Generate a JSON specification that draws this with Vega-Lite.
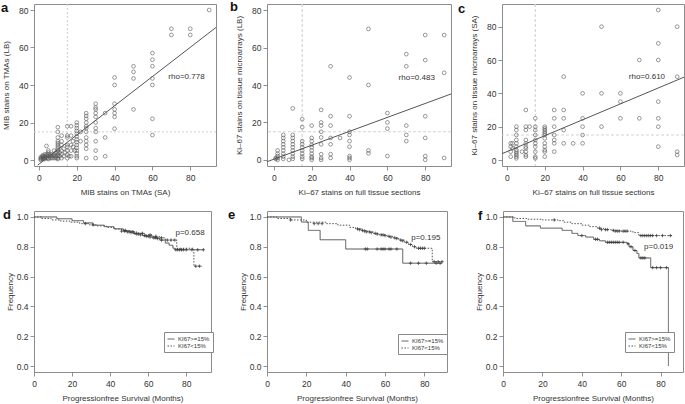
{
"$schema":"https://vega.github.io/schema/vega-lite/v6.json",
"padding":{"left":0,"top":0,"right":0,"bottom":0},
"background":"white",
"datasets":{
"sa":[{"x":1,"y":0},{"x":1,"y":0.5},{"x":1,"y":1},{"x":1,"y":1.5},{"x":2,"y":0.5},{"x":2,"y":1},{"x":2,"y":1.5},{"x":2,"y":2},{"x":2,"y":2.5},{"x":3,"y":0.5},{"x":3,"y":1},{"x":3,"y":1.5},{"x":3,"y":2},{"x":3,"y":3},{"x":4,"y":1},{"x":4,"y":2},{"x":4,"y":3},{"x":4,"y":7.5},{"x":5,"y":0.5},{"x":5,"y":1},{"x":5,"y":2},{"x":5,"y":3},{"x":5,"y":4},{"x":5,"y":5},{"x":6,"y":1},{"x":6,"y":2},{"x":6,"y":3},{"x":7,"y":1},{"x":7,"y":2},{"x":7,"y":3},{"x":8,"y":1},{"x":8,"y":2},{"x":8,"y":3},{"x":8,"y":5},{"x":9,"y":1},{"x":9,"y":2},{"x":9,"y":4},{"x":10,"y":0.5},{"x":10,"y":1},{"x":10,"y":2},{"x":10,"y":3},{"x":10,"y":4},{"x":10,"y":5},{"x":10,"y":6},{"x":10,"y":7},{"x":10,"y":8},{"x":10,"y":9},{"x":10,"y":10},{"x":10,"y":12},{"x":10,"y":15},{"x":10,"y":17.5},{"x":11,"y":2},{"x":11,"y":4},{"x":12,"y":1},{"x":12,"y":3},{"x":12,"y":5},{"x":12,"y":8},{"x":12,"y":10},{"x":12,"y":13},{"x":13,"y":2},{"x":13,"y":6},{"x":14,"y":4},{"x":15,"y":1},{"x":15,"y":3},{"x":15,"y":5},{"x":15,"y":7},{"x":15,"y":8},{"x":15,"y":12},{"x":15,"y":13},{"x":15,"y":18},{"x":16,"y":2},{"x":17,"y":2},{"x":17,"y":5},{"x":17,"y":8},{"x":17,"y":13},{"x":17,"y":18},{"x":18,"y":7},{"x":18,"y":10},{"x":19,"y":5},{"x":20,"y":1},{"x":20,"y":2},{"x":20,"y":3.5},{"x":20,"y":5},{"x":20,"y":6.5},{"x":20,"y":8},{"x":20,"y":9.5},{"x":20,"y":11},{"x":20,"y":12.5},{"x":20,"y":14},{"x":20,"y":15.5},{"x":20,"y":17},{"x":20,"y":18.5},{"x":20,"y":20},{"x":22,"y":10},{"x":22,"y":15},{"x":25,"y":1},{"x":25,"y":6},{"x":25,"y":8},{"x":25,"y":10},{"x":25,"y":12},{"x":25,"y":15},{"x":25,"y":17},{"x":25,"y":18},{"x":25,"y":20},{"x":25,"y":22},{"x":25,"y":23.5},{"x":25,"y":25},{"x":30,"y":1},{"x":30,"y":5},{"x":30,"y":10},{"x":30,"y":15},{"x":30,"y":17},{"x":30,"y":20},{"x":30,"y":23},{"x":30,"y":25},{"x":30,"y":27},{"x":30,"y":28},{"x":30,"y":30},{"x":35,"y":2},{"x":35,"y":12},{"x":35,"y":25},{"x":40,"y":16.7},{"x":40,"y":23},{"x":40,"y":25},{"x":40,"y":27},{"x":40,"y":30},{"x":40,"y":40},{"x":40,"y":44},{"x":50,"y":27},{"x":50,"y":43.5},{"x":50,"y":47},{"x":50,"y":50},{"x":60,"y":13.3},{"x":60,"y":22},{"x":60,"y":40},{"x":60,"y":43.5},{"x":60,"y":50},{"x":60,"y":53.5},{"x":60,"y":57},{"x":70,"y":66.7},{"x":70,"y":70},{"x":80,"y":66.7},{"x":80,"y":70},{"x":90,"y":80}],
"sb":[{"x":1,"y":1},{"x":1,"y":0.5},{"x":2,"y":0},{"x":2,"y":1},{"x":2,"y":2},{"x":2,"y":3.3},{"x":2,"y":5},{"x":5,"y":0.5},{"x":5,"y":1.7},{"x":5,"y":3.3},{"x":5,"y":5},{"x":5,"y":6.7},{"x":5,"y":8.3},{"x":5,"y":10},{"x":5,"y":11.7},{"x":5,"y":13.3},{"x":8,"y":0},{"x":10,"y":0.5},{"x":10,"y":1.7},{"x":10,"y":3.3},{"x":10,"y":5},{"x":10,"y":6.7},{"x":10,"y":8.3},{"x":10,"y":10},{"x":10,"y":11.7},{"x":10,"y":13.3},{"x":10,"y":27.5},{"x":15,"y":0.5},{"x":15,"y":1.7},{"x":15,"y":3.3},{"x":15,"y":5},{"x":15,"y":6.7},{"x":15,"y":8.3},{"x":15,"y":10},{"x":15,"y":17.5},{"x":15,"y":21.7},{"x":20,"y":0},{"x":20,"y":1},{"x":20,"y":1.7},{"x":20,"y":3.3},{"x":20,"y":5},{"x":20,"y":6.7},{"x":20,"y":8},{"x":20,"y":10},{"x":20,"y":11.7},{"x":20,"y":18.3},{"x":25,"y":0},{"x":25,"y":1},{"x":25,"y":3},{"x":25,"y":8.3},{"x":25,"y":12},{"x":25,"y":15},{"x":25,"y":18.3},{"x":25,"y":20},{"x":25,"y":26.7},{"x":30,"y":1},{"x":30,"y":3},{"x":30,"y":8.3},{"x":30,"y":11.7},{"x":30,"y":18.3},{"x":30,"y":23.3},{"x":30,"y":50},{"x":35,"y":11.7},{"x":40,"y":0},{"x":40,"y":1},{"x":40,"y":2},{"x":40,"y":7},{"x":40,"y":10},{"x":40,"y":13.3},{"x":40,"y":15},{"x":40,"y":23.3},{"x":40,"y":44},{"x":50,"y":3.5},{"x":50,"y":5},{"x":50,"y":40},{"x":50,"y":70},{"x":60,"y":2},{"x":60,"y":16.7},{"x":60,"y":20},{"x":60,"y":25},{"x":70,"y":10},{"x":70,"y":13.3},{"x":70,"y":18.3},{"x":70,"y":50},{"x":70,"y":56.5},{"x":80,"y":0},{"x":80,"y":2},{"x":80,"y":11.7},{"x":80,"y":23.3},{"x":80,"y":53.3},{"x":80,"y":66.7},{"x":90,"y":1},{"x":90,"y":46.5},{"x":90,"y":66.7}],
"sc":[{"x":2,"y":2},{"x":2,"y":5},{"x":2,"y":8},{"x":2,"y":10},{"x":3,"y":7},{"x":3,"y":10},{"x":5,"y":1},{"x":5,"y":2},{"x":5,"y":3},{"x":5,"y":4},{"x":5,"y":5},{"x":5,"y":6},{"x":5,"y":8},{"x":5,"y":10},{"x":5,"y":12},{"x":5,"y":15},{"x":5,"y":18},{"x":5,"y":20},{"x":8,"y":5},{"x":10,"y":2},{"x":10,"y":3},{"x":10,"y":5},{"x":10,"y":7},{"x":10,"y":8},{"x":10,"y":10},{"x":10,"y":12},{"x":10,"y":18},{"x":10,"y":20},{"x":10,"y":30},{"x":12,"y":20},{"x":15,"y":1},{"x":15,"y":2},{"x":15,"y":5},{"x":15,"y":8},{"x":15,"y":10},{"x":15,"y":12},{"x":15,"y":15},{"x":15,"y":18},{"x":15,"y":20},{"x":15,"y":25},{"x":20,"y":2},{"x":20,"y":5},{"x":20,"y":6},{"x":20,"y":8},{"x":20,"y":10},{"x":20,"y":13},{"x":20,"y":15},{"x":20,"y":16},{"x":20,"y":17},{"x":20,"y":18},{"x":20,"y":19},{"x":20,"y":20},{"x":25,"y":5},{"x":25,"y":10},{"x":25,"y":12},{"x":25,"y":15},{"x":25,"y":20},{"x":25,"y":25},{"x":25,"y":30},{"x":30,"y":10},{"x":30,"y":18},{"x":30,"y":25},{"x":30,"y":30},{"x":30,"y":50},{"x":35,"y":10},{"x":40,"y":10},{"x":40,"y":15},{"x":40,"y":20},{"x":40,"y":25},{"x":40,"y":40},{"x":50,"y":20},{"x":50,"y":40},{"x":50,"y":80},{"x":60,"y":25},{"x":60,"y":35},{"x":60,"y":40},{"x":70,"y":25},{"x":70,"y":60},{"x":80,"y":8},{"x":80,"y":20},{"x":80,"y":25},{"x":80,"y":35},{"x":80,"y":60},{"x":80,"y":70},{"x":80,"y":90},{"x":90,"y":3},{"x":90,"y":5},{"x":90,"y":50},{"x":90,"y":80}],
"km":[
{"p":"d","g":"KI67>=15%","t":0,"s":1},{"p":"d","g":"KI67>=15%","t":12,"s":0.988},{"p":"d","g":"KI67>=15%","t":20,"s":0.975},{"p":"d","g":"KI67>=15%","t":26,"s":0.96},{"p":"d","g":"KI67>=15%","t":31,"s":0.945},{"p":"d","g":"KI67>=15%","t":37,"s":0.935},{"p":"d","g":"KI67>=15%","t":42,"s":0.92},{"p":"d","g":"KI67>=15%","t":47,"s":0.905},{"p":"d","g":"KI67>=15%","t":52,"s":0.89},{"p":"d","g":"KI67>=15%","t":57,"s":0.875},{"p":"d","g":"KI67>=15%","t":62,"s":0.86},{"p":"d","g":"KI67>=15%","t":66,"s":0.845},{"p":"d","g":"KI67>=15%","t":69,"s":0.825},{"p":"d","g":"KI67>=15%","t":71,"s":0.81},{"p":"d","g":"KI67>=15%","t":73,"s":0.79},{"p":"d","g":"KI67>=15%","t":74,"s":0.78},{"p":"d","g":"KI67>=15%","t":89,"s":0.78},
{"p":"d","g":"KI67<15%","t":0,"s":1},{"p":"d","g":"KI67<15%","t":4,"s":0.99},{"p":"d","g":"KI67<15%","t":9,"s":0.98},{"p":"d","g":"KI67<15%","t":14,"s":0.972},{"p":"d","g":"KI67<15%","t":19,"s":0.965},{"p":"d","g":"KI67<15%","t":24,"s":0.955},{"p":"d","g":"KI67<15%","t":29,"s":0.947},{"p":"d","g":"KI67<15%","t":33,"s":0.94},{"p":"d","g":"KI67<15%","t":38,"s":0.93},{"p":"d","g":"KI67<15%","t":42,"s":0.92},{"p":"d","g":"KI67<15%","t":46,"s":0.91},{"p":"d","g":"KI67<15%","t":50,"s":0.9},{"p":"d","g":"KI67<15%","t":54,"s":0.89},{"p":"d","g":"KI67<15%","t":58,"s":0.88},{"p":"d","g":"KI67<15%","t":62,"s":0.87},{"p":"d","g":"KI67<15%","t":66,"s":0.86},{"p":"d","g":"KI67<15%","t":69,"s":0.845},{"p":"d","g":"KI67<15%","t":75,"s":0.79},{"p":"d","g":"KI67<15%","t":84,"s":0.67},{"p":"d","g":"KI67<15%","t":88,"s":0.67},
{"p":"e","g":"KI67>=15%","t":0,"s":1},{"p":"e","g":"KI67>=15%","t":17.5,"s":0.966},{"p":"e","g":"KI67>=15%","t":21,"s":0.91},{"p":"e","g":"KI67>=15%","t":27,"s":0.847},{"p":"e","g":"KI67>=15%","t":40,"s":0.785},{"p":"e","g":"KI67>=15%","t":69,"s":0.69},{"p":"e","g":"KI67>=15%","t":89,"s":0.69},
{"p":"e","g":"KI67<15%","t":0,"s":1},{"p":"e","g":"KI67<15%","t":5,"s":0.99},{"p":"e","g":"KI67<15%","t":12,"s":0.98},{"p":"e","g":"KI67<15%","t":20,"s":0.965},{"p":"e","g":"KI67<15%","t":30,"s":0.955},{"p":"e","g":"KI67<15%","t":36,"s":0.945},{"p":"e","g":"KI67<15%","t":42,"s":0.93},{"p":"e","g":"KI67<15%","t":45,"s":0.92},{"p":"e","g":"KI67<15%","t":48,"s":0.91},{"p":"e","g":"KI67<15%","t":51,"s":0.9},{"p":"e","g":"KI67<15%","t":54,"s":0.89},{"p":"e","g":"KI67<15%","t":57,"s":0.88},{"p":"e","g":"KI67<15%","t":61,"s":0.87},{"p":"e","g":"KI67<15%","t":64,"s":0.86},{"p":"e","g":"KI67<15%","t":67,"s":0.845},{"p":"e","g":"KI67<15%","t":70,"s":0.83},{"p":"e","g":"KI67<15%","t":72,"s":0.815},{"p":"e","g":"KI67<15%","t":74,"s":0.8},{"p":"e","g":"KI67<15%","t":76,"s":0.79},{"p":"e","g":"KI67<15%","t":84,"s":0.7},{"p":"e","g":"KI67<15%","t":89,"s":0.7},
{"p":"f","g":"KI67>=15%","t":0,"s":1},{"p":"f","g":"KI67>=15%","t":5,"s":0.97},{"p":"f","g":"KI67>=15%","t":11.5,"s":0.94},{"p":"f","g":"KI67>=15%","t":19,"s":0.925},{"p":"f","g":"KI67>=15%","t":30,"s":0.91},{"p":"f","g":"KI67>=15%","t":35,"s":0.89},{"p":"f","g":"KI67>=15%","t":38,"s":0.875},{"p":"f","g":"KI67>=15%","t":42,"s":0.865},{"p":"f","g":"KI67>=15%","t":46,"s":0.85},{"p":"f","g":"KI67>=15%","t":49,"s":0.84},{"p":"f","g":"KI67>=15%","t":52,"s":0.83},{"p":"f","g":"KI67>=15%","t":63,"s":0.82},{"p":"f","g":"KI67>=15%","t":64,"s":0.8},{"p":"f","g":"KI67>=15%","t":66,"s":0.775},{"p":"f","g":"KI67>=15%","t":68,"s":0.755},{"p":"f","g":"KI67>=15%","t":69,"s":0.725},{"p":"f","g":"KI67>=15%","t":75,"s":0.66},{"p":"f","g":"KI67>=15%","t":84,"s":0},
{"p":"f","g":"KI67<15%","t":0,"s":1},{"p":"f","g":"KI67<15%","t":6,"s":0.99},{"p":"f","g":"KI67<15%","t":12,"s":0.985},{"p":"f","g":"KI67<15%","t":20,"s":0.98},{"p":"f","g":"KI67<15%","t":28,"s":0.975},{"p":"f","g":"KI67<15%","t":31,"s":0.965},{"p":"f","g":"KI67<15%","t":35,"s":0.955},{"p":"f","g":"KI67<15%","t":40,"s":0.945},{"p":"f","g":"KI67<15%","t":44,"s":0.935},{"p":"f","g":"KI67<15%","t":48,"s":0.925},{"p":"f","g":"KI67<15%","t":51,"s":0.915},{"p":"f","g":"KI67<15%","t":55,"s":0.91},{"p":"f","g":"KI67<15%","t":60,"s":0.905},{"p":"f","g":"KI67<15%","t":66,"s":0.895},{"p":"f","g":"KI67<15%","t":69,"s":0.875},{"p":"f","g":"KI67<15%","t":86,"s":0.875}
],
"cens":[
{"p":"d","t":46,"s":0.905},{"p":"d","t":47.5,"s":0.905},{"p":"d","t":49,"s":0.9},{"p":"d","t":50,"s":0.9},{"p":"d","t":51,"s":0.895},{"p":"d","t":53,"s":0.89},{"p":"d","t":54,"s":0.885},{"p":"d","t":55,"s":0.885},{"p":"d","t":56,"s":0.88},{"p":"d","t":58,"s":0.875},{"p":"d","t":59,"s":0.87},{"p":"d","t":60,"s":0.87},{"p":"d","t":61,"s":0.865},{"p":"d","t":63,"s":0.86},{"p":"d","t":64,"s":0.86},{"p":"d","t":65,"s":0.855},{"p":"d","t":67,"s":0.845},{"p":"d","t":74.5,"s":0.78},{"p":"d","t":75.5,"s":0.78},{"p":"d","t":76.5,"s":0.78},{"p":"d","t":77.5,"s":0.78},{"p":"d","t":78.5,"s":0.78},{"p":"d","t":80,"s":0.78},{"p":"d","t":83,"s":0.78},{"p":"d","t":86,"s":0.78},{"p":"d","t":89,"s":0.78},
{"p":"d","t":27,"s":0.955},{"p":"d","t":31,"s":0.947},{"p":"d","t":48,"s":0.91},{"p":"d","t":52,"s":0.9},{"p":"d","t":57,"s":0.89},{"p":"d","t":61,"s":0.88},{"p":"d","t":64,"s":0.87},{"p":"d","t":67,"s":0.86},{"p":"d","t":70,"s":0.845},{"p":"d","t":72,"s":0.845},{"p":"d","t":74,"s":0.845},{"p":"d","t":85,"s":0.67},{"p":"d","t":87,"s":0.67},
{"p":"e","t":50,"s":0.785},{"p":"e","t":51,"s":0.785},{"p":"e","t":56,"s":0.785},{"p":"e","t":58,"s":0.785},{"p":"e","t":59,"s":0.785},{"p":"e","t":60,"s":0.785},{"p":"e","t":62,"s":0.785},{"p":"e","t":63,"s":0.785},{"p":"e","t":66,"s":0.785},{"p":"e","t":73,"s":0.69},{"p":"e","t":77,"s":0.69},{"p":"e","t":81,"s":0.69},{"p":"e","t":86,"s":0.69},{"p":"e","t":88,"s":0.69},
{"p":"e","t":12,"s":0.98},{"p":"e","t":24,"s":0.955},{"p":"e","t":26,"s":0.955},{"p":"e","t":28,"s":0.955},{"p":"e","t":46,"s":0.92},{"p":"e","t":47,"s":0.915},{"p":"e","t":48.5,"s":0.91},{"p":"e","t":49.5,"s":0.905},{"p":"e","t":50.5,"s":0.9},{"p":"e","t":52,"s":0.9},{"p":"e","t":53,"s":0.895},{"p":"e","t":55,"s":0.89},{"p":"e","t":56,"s":0.885},{"p":"e","t":58,"s":0.88},{"p":"e","t":59,"s":0.88},{"p":"e","t":60,"s":0.875},{"p":"e","t":62,"s":0.87},{"p":"e","t":63,"s":0.865},{"p":"e","t":65,"s":0.86},{"p":"e","t":66,"s":0.855},{"p":"e","t":68,"s":0.845},{"p":"e","t":69,"s":0.84},{"p":"e","t":71,"s":0.83},{"p":"e","t":73,"s":0.815},{"p":"e","t":75,"s":0.8},{"p":"e","t":77,"s":0.79},{"p":"e","t":78,"s":0.79},{"p":"e","t":79,"s":0.79},{"p":"e","t":80,"s":0.79},{"p":"e","t":85,"s":0.7},{"p":"e","t":87,"s":0.7},{"p":"e","t":89,"s":0.7},
{"p":"f","t":40,"s":0.875},{"p":"f","t":47,"s":0.85},{"p":"f","t":48,"s":0.85},{"p":"f","t":53,"s":0.83},{"p":"f","t":54,"s":0.83},{"p":"f","t":55,"s":0.83},{"p":"f","t":56,"s":0.83},{"p":"f","t":57,"s":0.83},{"p":"f","t":58,"s":0.83},{"p":"f","t":59,"s":0.83},{"p":"f","t":61,"s":0.83},{"p":"f","t":63.5,"s":0.82},{"p":"f","t":65,"s":0.8},{"p":"f","t":67,"s":0.775},{"p":"f","t":70,"s":0.725},{"p":"f","t":71,"s":0.725},{"p":"f","t":72,"s":0.725},{"p":"f","t":76,"s":0.66},{"p":"f","t":78,"s":0.66},{"p":"f","t":80,"s":0.66},{"p":"f","t":83,"s":0.66},
{"p":"f","t":26,"s":0.98},{"p":"f","t":49,"s":0.925},{"p":"f","t":50,"s":0.915},{"p":"f","t":52,"s":0.915},{"p":"f","t":53,"s":0.915},{"p":"f","t":56,"s":0.91},{"p":"f","t":57,"s":0.905},{"p":"f","t":58,"s":0.905},{"p":"f","t":59,"s":0.905},{"p":"f","t":61,"s":0.905},{"p":"f","t":62,"s":0.905},{"p":"f","t":63,"s":0.905},{"p":"f","t":70,"s":0.875},{"p":"f","t":71,"s":0.875},{"p":"f","t":72,"s":0.875},{"p":"f","t":73,"s":0.875},{"p":"f","t":74,"s":0.875},{"p":"f","t":75,"s":0.875},{"p":"f","t":76,"s":0.875},{"p":"f","t":78,"s":0.875},{"p":"f","t":81,"s":0.875},{"p":"f","t":85,"s":0.875}
],
"lab":[
{"p":"a","x":78,"y":44.2,"t":"rho=0.778"},{"p":"b","x":75.5,"y":43.8,"t":"rho=0.483"},{"p":"c","x":74,"y":49.6,"t":"rho=0.610"},
{"p":"d","x":82,"y":0.89,"t":"p=0.658"},{"p":"e","x":80.7,"y":0.86,"t":"p=0.195"},{"p":"f","x":79,"y":0.8,"t":"p=0.019"}
]
},
"vconcat":[
{"hconcat":[
{"width":182,"height":162,"title":{"text":"a","dx":-33,"offset":-11},
"layer":[
{"data":{"values":[{}]},"mark":{"type":"rule","color":"#cfcfcf","strokeDash":[2,2],"strokeWidth":1},"encoding":{"x":{"datum":15,"type":"quantitative","scale":{"domain":[-2.6,93.6],"nice":false,"zero":false}}}},
{"data":{"values":[{}]},"mark":{"type":"rule","color":"#cfcfcf","strokeDash":[2,2],"strokeWidth":1},"encoding":{"y":{"datum":15,"type":"quantitative","scale":{"domain":[-3.2,83.2],"nice":false,"zero":false}}}},
{"data":{"name":"sa"},"mark":{"type":"point","shape":"circle","filled":false,"size":14,"stroke":"#555","strokeWidth":0.6,"opacity":1},
"encoding":{"x":{"field":"x","type":"quantitative","title":"MIB stains on TMAs (SA)","axis":{"values":[0,20,40,60,80]}},"y":{"field":"y","type":"quantitative","title":"MIB stains on TMAs (LB)","axis":{"values":[0,20,40,60,80]}}}},
{"data":{"values":[{"x":-0.6,"y":-2.7},{"x":93.6,"y":70.7}]},"mark":{"type":"line","color":"#555","strokeWidth":1,"clip":true},"encoding":{"x":{"field":"x","type":"quantitative","title":"MIB stains on TMAs (SA)"},"y":{"field":"y","type":"quantitative","title":"MIB stains on TMAs (LB)"}}},
{"data":{"name":"lab"},"transform":[{"filter":"datum.p=='a'"}],"mark":{"type":"text","fontSize":8,"color":"#333"},"encoding":{"x":{"field":"x","type":"quantitative","title":"MIB stains on TMAs (SA)"},"y":{"field":"y","type":"quantitative","title":"MIB stains on TMAs (LB)"},"text":{"field":"t"}}}
]},
{"width":184,"height":162,"title":{"text":"b","dx":-37,"offset":-11},
"layer":[
{"data":{"values":[{}]},"mark":{"type":"rule","color":"#d4d4d4","strokeDash":[3,2],"strokeWidth":1.2},"encoding":{"x":{"datum":15,"type":"quantitative","scale":{"domain":[-3.6,93.6],"nice":false,"zero":false}}}},
{"data":{"values":[{}]},"mark":{"type":"rule","color":"#d4d4d4","strokeDash":[3,2],"strokeWidth":1.2},"encoding":{"y":{"datum":15,"type":"quantitative","scale":{"domain":[-3.3,83.3],"nice":false,"zero":false}}}},
{"data":{"name":"sb"},"mark":{"type":"point","shape":"circle","filled":false,"size":14,"stroke":"#555","strokeWidth":0.6,"opacity":1},
"encoding":{"x":{"field":"x","type":"quantitative","title":"Ki\u201367 stains on full tissue sections","axis":{"values":[0,20,40,60,80]}},"y":{"field":"y","type":"quantitative","title":"Ki\u201367 stains on tissue microarrays (LB)","axis":{"values":[0,20,40,60,80]}}}},
{"data":{"values":[{"x":-3.6,"y":-1.0},{"x":93.6,"y":35.2}]},"mark":{"type":"line","color":"#555","strokeWidth":1,"clip":true},"encoding":{"x":{"field":"x","type":"quantitative","title":"Ki\u201367 stains on full tissue sections"},"y":{"field":"y","type":"quantitative","title":"Ki\u201367 stains on tissue microarrays (LB)"}}},
{"data":{"name":"lab"},"transform":[{"filter":"datum.p=='b'"}],"mark":{"type":"text","fontSize":8,"color":"#333"},"encoding":{"x":{"field":"x","type":"quantitative","title":"Ki\u201367 stains on full tissue sections"},"y":{"field":"y","type":"quantitative","title":"Ki\u201367 stains on tissue microarrays (LB)"},"text":{"field":"t"}}}
]},
{"width":182,"height":162,"title":{"text":"c","dx":-44,"offset":-13},
"layer":[
{"data":{"values":[{}]},"mark":{"type":"rule","color":"#d4d4d4","strokeDash":[3,2],"strokeWidth":1.2},"encoding":{"x":{"datum":15,"type":"quantitative","scale":{"domain":[-2.6,93.6],"nice":false,"zero":false}}}},
{"data":{"values":[{}]},"mark":{"type":"rule","color":"#d4d4d4","strokeDash":[3,2],"strokeWidth":1.2},"encoding":{"y":{"datum":15,"type":"quantitative","scale":{"domain":[-3.6,93.6],"nice":false,"zero":false}}}},
{"data":{"name":"sc"},"mark":{"type":"point","shape":"circle","filled":false,"size":14,"stroke":"#555","strokeWidth":0.6,"opacity":1},
"encoding":{"x":{"field":"x","type":"quantitative","title":"Ki\u201367 stains on full tissue sections","axis":{"values":[0,20,40,60,80]}},"y":{"field":"y","type":"quantitative","title":"Ki\u201367 stains on tissue microarrays (SA)","axis":{"values":[0,20,40,60,80]}}}},
{"data":{"values":[{"x":-2.6,"y":3.8},{"x":93.6,"y":49.7}]},"mark":{"type":"line","color":"#555","strokeWidth":1,"clip":true},"encoding":{"x":{"field":"x","type":"quantitative","title":"Ki\u201367 stains on full tissue sections"},"y":{"field":"y","type":"quantitative","title":"Ki\u201367 stains on tissue microarrays (SA)"}}},
{"data":{"name":"lab"},"transform":[{"filter":"datum.p=='c'"}],"mark":{"type":"text","fontSize":8,"color":"#333"},"encoding":{"x":{"field":"x","type":"quantitative","title":"Ki\u201367 stains on full tissue sections"},"y":{"field":"y","type":"quantitative","title":"Ki\u201367 stains on tissue microarrays (SA)"},"text":{"field":"t"}}}
]}
],"spacing":51,"bounds":"flush"},
{"hconcat":[
{"width":177,"height":161,"title":{"text":"d","dx":-31,"offset":-11},
"layer":[
{"data":{"name":"km"},"transform":[{"filter":"datum.p=='d'"}],"mark":{"type":"line","interpolate":"step-after","color":"#555","strokeWidth":1},
"encoding":{"x":{"field":"t","type":"quantitative","title":"Progressionfree Survival (Months)","scale":{"domain":[0,93],"nice":false,"zero":false},"axis":{"values":[0,20,40,60,80],"titlePadding":7}},
"y":{"field":"s","type":"quantitative","title":"Frequency","scale":{"domain":[-0.04,1.04],"nice":false,"zero":false},"axis":{"values":[0,0.2,0.4,0.6,0.8,1],"tickCount":10,"format":".1f","titlePadding":2,"labelOverlap":false}},
"strokeDash":{"field":"g","type":"nominal","scale":{"domain":["KI67>=15%","KI67<15%"],"range":[[1,0],[1.5,1.5]]},"legend":{"orient":"none","legendX":130,"legendY":121}}}},
{"data":{"name":"cens"},"transform":[{"filter":"datum.p=='d'"}],"mark":{"type":"point","shape":"M-1,0L1,0M0,-1L0,1","filled":false,"size":12,"stroke":"#333","strokeWidth":0.7,"opacity":1},
"encoding":{"x":{"field":"t","type":"quantitative","title":"Progressionfree Survival (Months)"},"y":{"field":"s","type":"quantitative","title":"Frequency"}}},
{"data":{"name":"lab"},"transform":[{"filter":"datum.p=='d'"}],"mark":{"type":"text","fontSize":8,"color":"#333"},"encoding":{"x":{"field":"x","type":"quantitative","title":"Progressionfree Survival (Months)"},"y":{"field":"y","type":"quantitative","title":"Frequency"},"text":{"field":"t"}}}
]},
{"width":180,"height":161,"title":{"text":"e","dx":-39,"offset":-10.5},
"layer":[
{"data":{"name":"km"},"transform":[{"filter":"datum.p=='e'"}],"mark":{"type":"line","interpolate":"step-after","color":"#555","strokeWidth":1},
"encoding":{"x":{"field":"t","type":"quantitative","title":"Progressionfree Survival (Months)","scale":{"domain":[0,91.5],"nice":false,"zero":false},"axis":{"values":[0,20,40,60,80],"titlePadding":7}},
"y":{"field":"s","type":"quantitative","title":"Frequency","scale":{"domain":[-0.04,1.04],"nice":false,"zero":false},"axis":{"values":[0,0.2,0.4,0.6,0.8,1],"tickCount":10,"format":".1f","titlePadding":2,"labelOverlap":false}},
"strokeDash":{"field":"g","type":"nominal","scale":{"domain":["KI67>=15%","KI67<15%"],"range":[[1,0],[1.5,1.5]]},"legend":{"orient":"none","legendX":131,"legendY":123}}}},
{"data":{"name":"cens"},"transform":[{"filter":"datum.p=='e'"}],"mark":{"type":"point","shape":"M-1,0L1,0M0,-1L0,1","filled":false,"size":12,"stroke":"#333","strokeWidth":0.7,"opacity":1},
"encoding":{"x":{"field":"t","type":"quantitative","title":"Progressionfree Survival (Months)"},"y":{"field":"s","type":"quantitative","title":"Frequency"}}},
{"data":{"name":"lab"},"transform":[{"filter":"datum.p=='e'"}],"mark":{"type":"text","fontSize":8,"color":"#333"},"encoding":{"x":{"field":"x","type":"quantitative","title":"Progressionfree Survival (Months)"},"y":{"field":"y","type":"quantitative","title":"Frequency"},"text":{"field":"t"}}}
]},
{"width":180,"height":161,"title":{"text":"f","dx":-25,"offset":-11.5},
"layer":[
{"data":{"name":"km"},"transform":[{"filter":"datum.p=='f'"}],"mark":{"type":"line","interpolate":"step-after","color":"#555","strokeWidth":1},
"encoding":{"x":{"field":"t","type":"quantitative","title":"Progressionfree Survival (Months)","scale":{"domain":[0,91.4],"nice":false,"zero":false},"axis":{"values":[0,20,40,60,80],"titlePadding":7}},
"y":{"field":"s","type":"quantitative","title":"Frequency","scale":{"domain":[-0.04,1.04],"nice":false,"zero":false},"axis":{"values":[0,0.2,0.4,0.6,0.8,1],"tickCount":10,"format":".1f","titlePadding":2,"labelOverlap":false}},
"strokeDash":{"field":"g","type":"nominal","scale":{"domain":["KI67>=15%","KI67<15%"],"range":[[1,0],[1.5,1.5]]},"legend":{"orient":"none","legendX":122,"legendY":121}}}},
{"data":{"name":"cens"},"transform":[{"filter":"datum.p=='f'"}],"mark":{"type":"point","shape":"M-1,0L1,0M0,-1L0,1","filled":false,"size":12,"stroke":"#333","strokeWidth":0.7,"opacity":1},
"encoding":{"x":{"field":"t","type":"quantitative","title":"Progressionfree Survival (Months)"},"y":{"field":"s","type":"quantitative","title":"Frequency"}}},
{"data":{"name":"lab"},"transform":[{"filter":"datum.p=='f'"}],"mark":{"type":"text","fontSize":8,"color":"#333"},"encoding":{"x":{"field":"x","type":"quantitative","title":"Progressionfree Survival (Months)"},"y":{"field":"y","type":"quantitative","title":"Frequency"},"text":{"field":"t"}}}
]}
],"spacing":56,"bounds":"flush","resolve":{"scale":{"strokeDash":"independent"},"legend":{"strokeDash":"independent"}}}
],
"spacing":207,"bounds":"flush",
"resolve":{"scale":{"strokeDash":"independent"},"legend":{"strokeDash":"independent"}},
"config":{
"font":"Liberation Sans",
"view":{"stroke":"#8c8c8c","strokeWidth":1},
"axis":{"domain":false,"grid":false,"ticks":true,"tickSize":4,"tickColor":"#777","tickWidth":0.8,"labelFont":"Liberation Sans","labelFontSize":8.5,"labelColor":"#333","labelPadding":2,"labelFlush":false,"labelOverlap":false,"titleFont":"Liberation Sans","titleFontSize":8,"titleFontWeight":"normal","titleColor":"#333"},
"axisX":{"titlePadding":7,"labelPadding":3},
"axisY":{"titlePadding":8},
"title":{"anchor":"start","frame":"group","fontSize":13,"fontWeight":"bold","font":"Liberation Sans","color":"#111","baseline":"alphabetic"},
"legend":{"title":null,"strokeColor":"#888","padding":3,"fillColor":"#fff","symbolType":"stroke","symbolSize":49,"symbolStrokeWidth":1,"symbolStrokeColor":"#555","labelFontSize":6,"labelFont":"Liberation Sans","labelColor":"#333","labelOffset":3,"rowPadding":0,"direction":"vertical"}
}
}
